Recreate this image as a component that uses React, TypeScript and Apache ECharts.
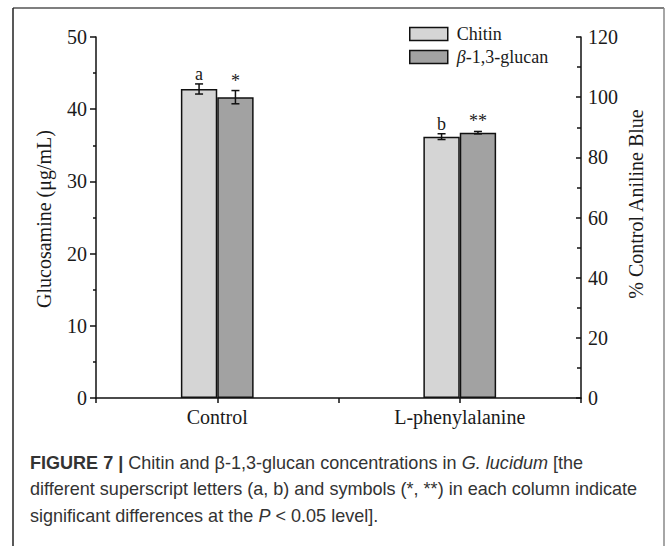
import React, { useEffect, useRef } from "react";
import * as echarts from "echarts";

const categories = ["Control", "L-phenylalanine"];
const chitin = [42.8, 36.2];
const chitinErr = [0.7, 0.4];
const glucan = [100.0, 88.2];
const glucanErr = [2.2, 0.4];
const chitinMarks = ["a", "b"];
const glucanMarks = ["*", "**"];
const seriesNames = ["Chitin", "β-1,3-glucan"];
const leftAxisName = "Glucosamine (μg/mL)";
const rightAxisName = "% Control Aniline Blue";
const captionLines = [
  "{b|FIGURE 7 |} Chitin and β-1,3-glucan concentrations in {i|G. lucidum} [the",
  "different superscript letters (a, b) and symbols (*, **) in each column indicate",
  "significant differences at the {i|P} < 0.05 level].",
];

const SERIF = '"Liberation Serif", "Times New Roman", serif';
const SANS = '"Liberation Sans", Arial, sans-serif';
const BAR_FRAC = 0.15;

function errorRenderer(marks: string[], sign: number) {
  return (params: any, api: any) => {
    const cat = api.value(0);
    const v = api.value(1);
    const e = api.value(2);
    const band = api.size([1, 0])[0];
    const x = api.coord([cat, v])[0] + (sign * band * BAR_FRAC) / 2;
    const yTop = api.coord([cat, v + e])[1];
    const yBot = api.coord([cat, v - e])[1];
    const cap = 4;
    const ls = { stroke: "#111", lineWidth: 1.5 };
    return {
      type: "group",
      children: [
        { type: "line", shape: { x1: x, y1: yTop, x2: x, y2: yBot }, style: ls },
        { type: "line", shape: { x1: x - cap, y1: yTop, x2: x + cap, y2: yTop }, style: ls },
        { type: "line", shape: { x1: x - cap, y1: yBot, x2: x + cap, y2: yBot }, style: ls },
        {
          type: "text",
          style: {
            text: marks[params.dataIndex],
            x,
            y: yTop - 1,
            align: "center",
            verticalAlign: "bottom",
            fontSize: 18,
            fontFamily: SERIF,
            fill: "#1a1a1a",
          },
        },
      ],
    };
  };
}

export default function App() {
  const ref = useRef<HTMLDivElement>(null);
  useEffect(() => {
    if (!ref.current) return;
    const chart = echarts.init(ref.current, null, { renderer: "svg" });
    const axisText = { fontFamily: SERIF, fontSize: 20, color: "#1a1a1a" };
    chart.setOption({
      animation: false,
      backgroundColor: "#ffffff",
      grid: { left: 96, right: 91, top: 37, bottom: 148, containLabel: false },
      legend: {
        orient: "vertical",
        left: 409,
        top: 25,
        padding: 0,
        itemWidth: 38,
        itemHeight: 13,
        itemGap: 5,
        icon: "rect",
        data: seriesNames,
        itemStyle: { borderColor: "#111", borderWidth: 1.5 },
        textStyle: {
          fontFamily: SERIF,
          fontSize: 18,
          color: "#1a1a1a",
          padding: [0, 0, 0, 4],
          rich: { i: { fontFamily: SERIF, fontSize: 18, fontStyle: "italic", color: "#1a1a1a" } },
        },
        formatter: (name: string) => (name.startsWith("β") ? "{i|β}" + name.slice(1) : name),
      },
      xAxis: [
        {
          type: "category",
          data: categories,
          position: "bottom",
          axisLine: { lineStyle: { color: "#111", width: 1.5 } },
          axisTick: { show: true, length: 5, lineStyle: { color: "#111", width: 1.5 } },
          axisLabel: { ...axisText, margin: 9 },
          splitLine: { show: false },
        },
        {
          type: "category",
          data: categories,
          position: "bottom",
          offset: 0,
          axisLine: { show: false },
          axisTick: { show: true, alignWithLabel: true, length: 5, lineStyle: { color: "#111", width: 1.5 } },
          axisLabel: { show: false },
          splitLine: { show: false },
        },
      ],
      yAxis: [
        {
          type: "value",
          min: 0,
          max: 50,
          interval: 10,
          position: "left",
          axisLine: { show: true, lineStyle: { color: "#111", width: 1.5 } },
          axisTick: { show: true, length: 6, lineStyle: { color: "#111", width: 1.5 } },
          minorTick: { show: true, splitNumber: 2, length: 3, lineStyle: { color: "#111", width: 1.5 } },
          axisLabel: { ...axisText, margin: 9 },
          splitLine: { show: false },
        },
        {
          type: "value",
          min: 0,
          max: 120,
          interval: 20,
          position: "right",
          axisLine: { show: true, lineStyle: { color: "#111", width: 1.5 } },
          axisTick: { show: true, inside: true, length: 5, lineStyle: { color: "#111", width: 1.5 } },
          minorTick: { show: true, splitNumber: 2, length: 4, lineStyle: { color: "#111", width: 1.5 } },
          axisLabel: { ...axisText, margin: 7 },
          splitLine: { show: false },
        },
      ],
      series: [
        {
          name: seriesNames[0],
          type: "bar",
          xAxisIndex: 0,
          yAxisIndex: 0,
          data: chitin,
          barWidth: BAR_FRAC * 100 + "%",
          barGap: "0%",
          itemStyle: { color: "#d5d5d5", borderColor: "#111", borderWidth: 1.5 },
        },
        {
          name: seriesNames[1],
          type: "bar",
          xAxisIndex: 0,
          yAxisIndex: 1,
          data: glucan,
          barWidth: BAR_FRAC * 100 + "%",
          barGap: "0%",
          itemStyle: { color: "#a2a2a2", borderColor: "#111", borderWidth: 1.5 },
        },
        {
          type: "custom",
          xAxisIndex: 0,
          yAxisIndex: 0,
          data: chitin.map((v, i) => [i, v, chitinErr[i]]),
          renderItem: errorRenderer(chitinMarks, -1),
          z: 5,
        },
        {
          type: "custom",
          xAxisIndex: 0,
          yAxisIndex: 1,
          data: glucan.map((v, i) => [i, v, glucanErr[i]]),
          renderItem: errorRenderer(glucanMarks, 1),
          z: 5,
        },
      ],
      graphic: [
        { type: "line", shape: { x1: 13, y1: 8, x2: 664, y2: 8 }, style: { stroke: "#555", lineWidth: 1.5 } },
        { type: "line", shape: { x1: 13, y1: 8, x2: 13, y2: 546 }, style: { stroke: "#222", lineWidth: 1.5 } },
        { type: "line", shape: { x1: 664, y1: 8, x2: 664, y2: 546 }, style: { stroke: "#888", lineWidth: 1.5 } },
        {
          type: "text",
          x: 44,
          y: 219,
          rotation: Math.PI / 2,
          style: { text: leftAxisName, align: "center", verticalAlign: "middle", fontFamily: SERIF, fontSize: 20, fill: "#1a1a1a" },
        },
        {
          type: "text",
          x: 636,
          y: 204,
          rotation: Math.PI / 2,
          style: { text: rightAxisName, align: "center", verticalAlign: "middle", fontFamily: SERIF, fontSize: 20, fill: "#1a1a1a" },
        },
        ...captionLines.map((t, i) => ({
          type: "text",
          x: 30,
          y: 462 + i * 26.5,
          scaleX: 0.95,
          style: {
            text: t,
            align: "left",
            verticalAlign: "middle",
            fontFamily: SANS,
            fontSize: 19,
            fill: "#333",
            rich: {
              b: { fontWeight: "bold", fontFamily: SANS, fontSize: 19, fill: "#333" },
              i: { fontStyle: "italic", fontFamily: SANS, fontSize: 19, fill: "#333" },
            },
          },
        })),
      ],
    });
    return () => chart.dispose();
  }, []);
  return <div ref={ref} style={{ position: "absolute", left: 0, top: 0, width: 672, height: 546 }} />;
}
